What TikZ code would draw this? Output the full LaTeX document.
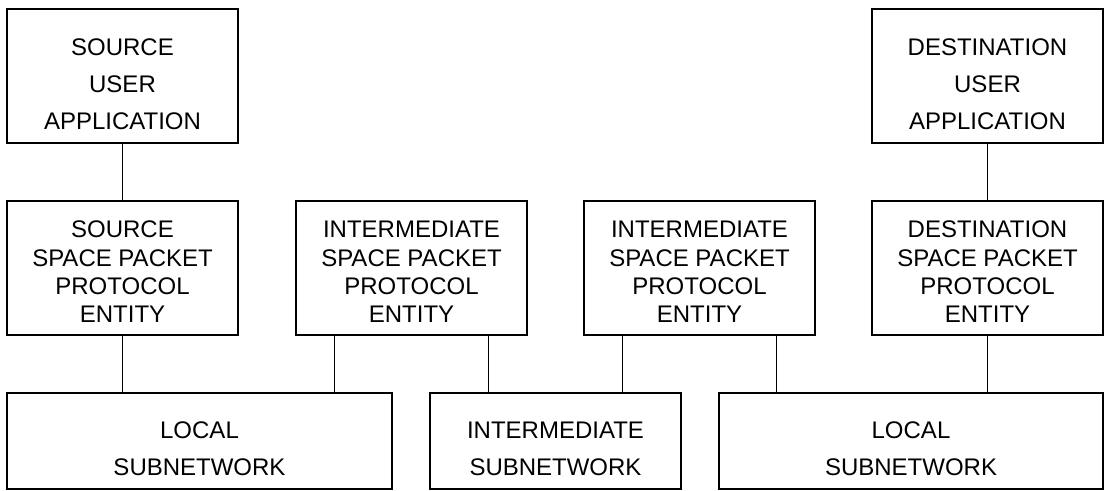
\documentclass[tikz,border=0pt]{standalone}
\usepackage{fontspec}
\setmainfont{Liberation Sans}

\tikzset{
  box/.style={draw, line width=1pt, inner sep=0pt,
    minimum width=115.5pt, minimum height=67pt},
  % the lines sit a little below the middle of the box
  loose/.style={align=center, font=\fontsize{12}{18.4}\selectfont, yshift=-4pt},
  tight/.style={align=center, font=\fontsize{12}{14.15}\selectfont, yshift=-2pt},
  link/.style={line width=0.65pt}
}

\begin{document}
\begin{tikzpicture}[x=0.5pt, y=-0.5pt]

  \useasboundingbox (0,0) rectangle (1104,491);

  % user applications
  \node[box, label={[loose]center:SOURCE\\USER\\APPLICATION}] (srcapp) at (122.5,76) {};
  \node[box, label={[loose]center:DESTINATION\\USER\\APPLICATION}] (dstapp) at (987.5,76) {};

  % space packet protocol entities
  \node[box, label={[tight]center:SOURCE\\SPACE PACKET\\PROTOCOL\\ENTITY}] (srcsp) at (122.5,268) {};
  \node[box, label={[tight]center:INTERMEDIATE\\SPACE PACKET\\PROTOCOL\\ENTITY}] (imsp1) at (411.5,268) {};
  \node[box, label={[tight]center:INTERMEDIATE\\SPACE PACKET\\PROTOCOL\\ENTITY}] (imsp2) at (699.5,268) {};
  \node[box, label={[tight]center:DESTINATION\\SPACE PACKET\\PROTOCOL\\ENTITY}] (dstsp) at (987.5,268) {};

  % subnetworks
  \node[box, minimum width=192.5pt, minimum height=48pt,
    label={[loose]center:LOCAL\\SUBNETWORK}] (lan1) at (199.5,441) {};
  \node[box, minimum width=125.5pt, minimum height=48pt,
    label={[loose]center:INTERMEDIATE\\SUBNETWORK}] (isn) at (555.5,441) {};
  \node[box, minimum width=192pt, minimum height=48pt,
    label={[loose]center:LOCAL\\SUBNETWORK}] (lan2) at (911,441) {};

  % connections
  \draw[link] (srcapp) -- (srcsp);
  \draw[link] (dstapp) -- (dstsp);
  \draw[link] (srcsp.south) -- (srcsp.south |- lan1.north);
  \draw[link] (dstsp.south) -- (dstsp.south |- lan2.north);

  \draw[link] ([xshift=-38.5pt]imsp1.south) -- ([xshift=-38.5pt]imsp1.south |- lan1.north);
  \draw[link] ([xshift=38.5pt]imsp1.south) -- ([xshift=38.5pt]imsp1.south |- isn.north);
  \draw[link] ([xshift=-38.5pt]imsp2.south) -- ([xshift=-38.5pt]imsp2.south |- isn.north);
  \draw[link] ([xshift=38.5pt]imsp2.south) -- ([xshift=38.5pt]imsp2.south |- lan2.north);

\end{tikzpicture}
\end{document}
